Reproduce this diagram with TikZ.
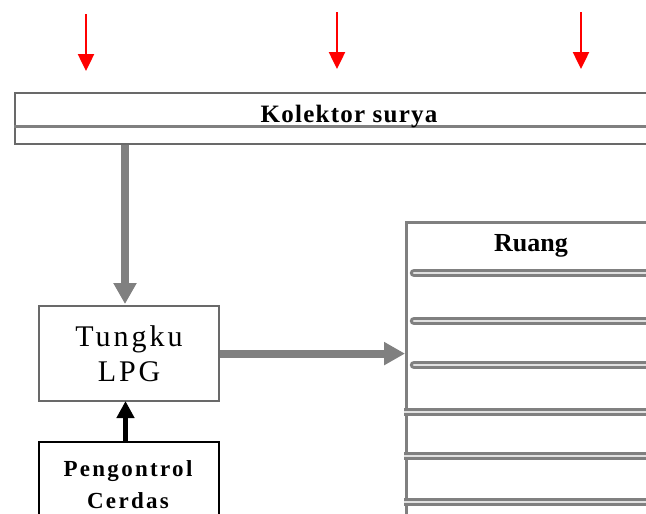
\documentclass[tikz,border=0pt]{standalone}
\usepackage{fontspec}
\setmainfont{Liberation Serif}
\usetikzlibrary{arrows.meta}
\definecolor{linegray}{RGB}{128,128,128}
\definecolor{shelfcore}{RGB}{225,225,225}
\definecolor{framegray}{RGB}{105,105,105}
\definecolor{sunred}{RGB}{255,0,0}
\tikzset{
  frame/.style={draw=framegray, line width=2.2pt, fill=white, inner sep=0pt},
  heavyarrow/.style={draw=linegray, line width=8pt, -{Triangle[length=21pt,width=22pt]}},
  ctrlarrow/.style={draw=black, line width=5pt, -{Triangle[length=17pt,width=17pt]}},
  sunray/.style={draw=sunred, line width=2.5pt, -{Triangle[length=17pt,width=16pt]}},
  shelfouter/.style={draw=linegray, line width=8.5pt},
  shelfinner/.style={draw=shelfcore, line width=2.5pt},
  boldlabel/.style={font=\fontsize{25}{28}\selectfont\bfseries\addfontfeature{LetterSpace=5}},
}
\begin{document}
\begin{tikzpicture}[x=1pt,y=-1pt]
\useasboundingbox (0,0) rectangle (646,514);
\clip (0,0) rectangle (646,514);
\fill[white] (0,0) rectangle (646,514);

% incoming sunlight
\coordinate (s1a) at (86,14);  \coordinate (s1b) at (86,71);
\coordinate (s2a) at (337,12); \coordinate (s2b) at (337,69);
\coordinate (s3a) at (581,12); \coordinate (s3b) at (581,69);
\draw[sunray] (s1a) -- (s1b);
\draw[sunray] (s2a) -- (s2b);
\draw[sunray] (s3a) -- (s3b);

% solar collector
\node[frame, line width=2pt, minimum width=700pt, minimum height=51pt, anchor=north west] (kol) at (14,92) {};
\coordinate (kolL) at (14,126.5);
\coordinate (kolR) at (720,126.5);
\draw[linegray, line width=3pt] (kolL) -- (kolR);
\node[boldlabel, inner sep=0pt, anchor=base] (kollabel) at (349,122) {Kolektor surya};

% LPG furnace
\node[frame, minimum width=180pt, minimum height=95pt, anchor=north west,
      font=\fontsize{30}{35}\selectfont\addfontfeature{LetterSpace=10}, align=center] (tungku) at (38,305) {Tungku\\LPG};

% smart controller
\node[frame, draw=black, line width=2.2pt, minimum width=180pt, minimum height=120pt, anchor=north west] (peng) at (38,441) {};
\node[font=\fontsize{23}{32}\selectfont\bfseries\addfontfeature{LetterSpace=10}, align=center, inner sep=0pt] (penglabel) at (128,485) {Pengontrol\\Cerdas};

% room with shelves
\node[frame, draw=linegray, line width=3pt, minimum width=300pt, minimum height=320pt, anchor=north west] (ruang) at (405,221) {};
\node[inner sep=0pt, font=\fontsize{26}{28}\selectfont\bfseries] (ruanglabel) at (531,246) {Ruang};
\foreach \y/\x/\c in {273/414/round, 321/414/round, 365/414/round, 412/404/butt, 456/404/butt, 502/404/butt}{
  \coordinate (shL\y) at (\x,\y);
  \coordinate (shR\y) at (700,\y);
  \draw[shelfouter, line cap=\c] (shL\y) -- (shR\y);
  \draw[shelfinner, line cap=\c] (shL\y) -- (shR\y);
}

% flows
\coordinate (tin) at (125,304);
\draw[heavyarrow] (kol.south -| tin) -- (tin);
\draw[heavyarrow] (tungku.east) -- (ruang.west |- tungku.east);
\coordinate (cin) at (125.5,401);
\draw[ctrlarrow] (peng.north -| cin) -- (cin);
\end{tikzpicture}
\end{document}
